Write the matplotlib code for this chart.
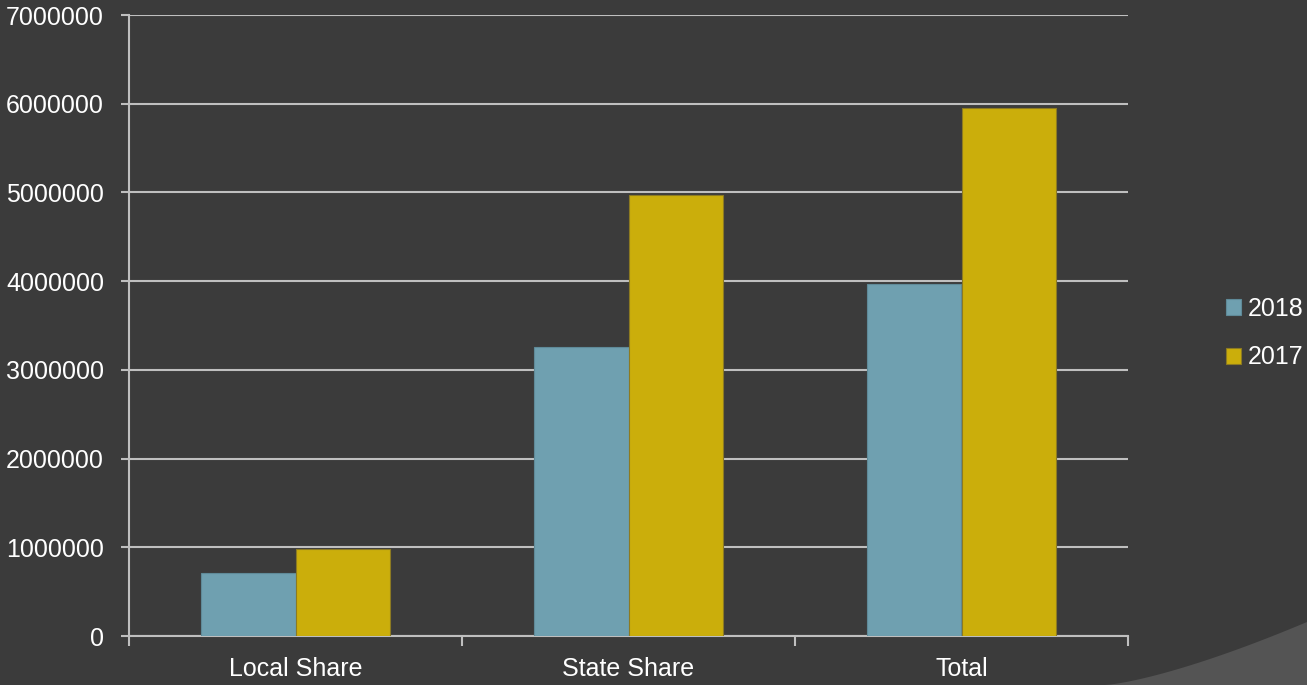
import numpy as np
import matplotlib.pyplot as plt
from matplotlib.patches import Polygon

# data
categories = ["Local Share", "State Share", "Total"]
series_names = ["2018", "2017"]
values_2018 = [714000, 3258000, 3972000]
values_2017 = [980000, 4970000, 5955000]

bg = "#3b3b3b"
grid_col = "#bfbfbf"
colors = ["#6fa0b0", "#cbae0b"]
edges = ["#5f8a98", "#8c7a22"]
fs = 18

plt.rcParams['font.family'] = ['Liberation Sans', 'DejaVu Sans']

fig = plt.figure(figsize=(13.07, 6.85), dpi=100, facecolor=bg)
ax = fig.add_axes([129 / 1307, 1 - 636 / 685, (1128 - 129) / 1307, (636 - 15) / 685])
ax.set_facecolor(bg)

# decorative lighter swoosh in the bottom right corner (smooth curve)
t = np.linspace(0, 1, 40)
cx = 1105 + (1307 - 1105) * t
cy = 63 * (t ** 1.35)
pts = [(px / 1307, py / 685) for px, py in zip(cx, cy)] + [(1, 0)]
swoosh = Polygon(pts, closed=True, transform=fig.transFigure,
                 facecolor="#545454", edgecolor="none", zorder=0)
fig.patches.append(swoosh)

x = np.arange(len(categories))
w = 0.285
for i, (vals, name) in enumerate(zip([values_2018, values_2017], series_names)):
    ax.bar(x + (i - 0.5) * w, vals, w, color=colors[i], edgecolor=edges[i],
           linewidth=0.8, label=name, zorder=3)

ax.set_xlim(-0.5, len(categories) - 0.5)
ax.set_ylim(0, 7000000)
ax.set_yticks(np.arange(0, 7000001, 1000000))
ax.set_yticklabels([str(v) for v in range(0, 7000001, 1000000)])
ax.set_xticks(x)
ax.set_xticklabels(categories)
ax.set_xticks(np.arange(-0.5, len(categories)), minor=True)

ax.yaxis.grid(True, color=grid_col, linewidth=1.5, zorder=1)
ax.set_axisbelow(True)
for s in ["top", "right"]:
    ax.spines[s].set_visible(False)
for s in ["left", "bottom"]:
    ax.spines[s].set_color(grid_col)
    ax.spines[s].set_linewidth(1.5)

ax.tick_params(axis='y', colors="white", labelsize=fs, length=6, width=1.5,
               color=grid_col, pad=12)
ax.tick_params(axis='x', which='major', colors="white", labelsize=fs, length=0, pad=15)
ax.tick_params(axis='x', which='minor', length=7, width=1.5, color=grid_col)

leg = fig.legend(loc="center left", bbox_to_anchor=(1203 / 1307, 1 - 333 / 685),
                 frameon=False, fontsize=fs, labelcolor="white",
                 handlelength=0.6, handleheight=0.6, handletextpad=0.3,
                 labelspacing=1.0)

fig.savefig("out.png", dpi=100, facecolor=bg)
